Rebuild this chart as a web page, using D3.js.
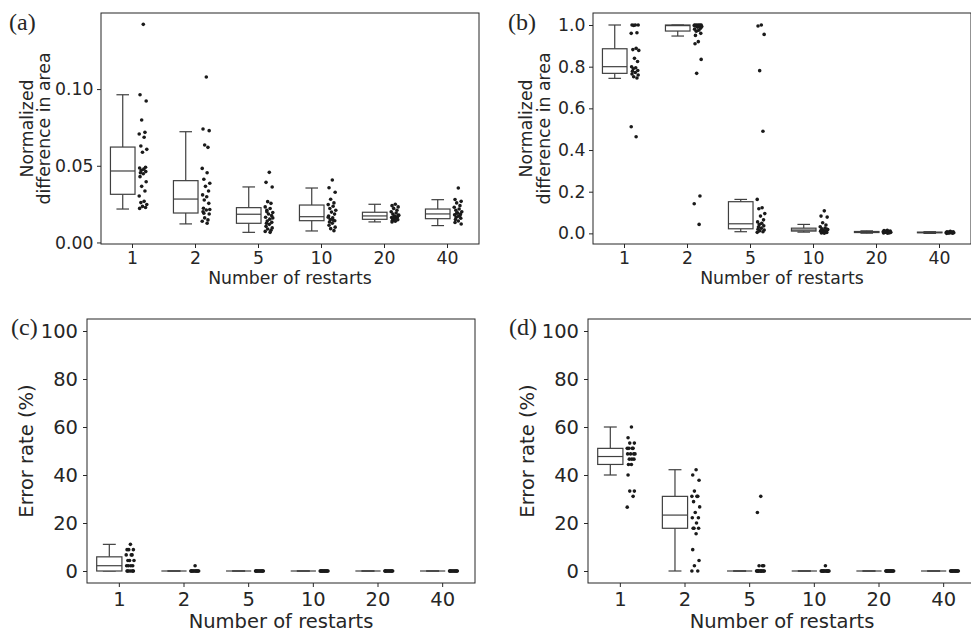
<!DOCTYPE html>
<html>
<head>
<meta charset="utf-8">
<script src="https://cdn.jsdelivr.net/npm/d3@7"></script>
<style>
  body { margin: 0; background: #fff; }
  svg { display: block; }
  text { fill: #262626; }
</style>
</head>
<body>
<svg id="chart" width="971" height="632"></svg>
<script>
// categories on the x axis
const restarts = ['1', '2', '5', '10', '20', '40'];

// box stats per category: [lower whisker, q1, median, q3, upper whisker]
const boxA = [
  [0.0218, 0.0314, 0.0466, 0.0622, 0.0963],
  [0.0121, 0.0192, 0.0283, 0.0403, 0.0722],
  [0.0066, 0.0125, 0.0184, 0.0227, 0.0362],
  [0.0075, 0.0142, 0.0168, 0.0244, 0.0355],
  [0.0134, 0.0151, 0.0173, 0.0197, 0.0249],
  [0.0110, 0.0155, 0.0186, 0.0218, 0.0279]
];
const dotsA = [
  [0.1422, 0.0963, 0.0922, 0.0798, 0.0718, 0.0707, 0.0686, 0.0629, 0.0607, 0.0588, 0.0490, 0.0485, 0.0478, 0.0470, 0.0462, 0.0455, 0.0448, 0.0429, 0.0396, 0.0366, 0.0336, 0.0303, 0.0268, 0.0260, 0.0248, 0.0235, 0.0228, 0.0222],
  [0.1079, 0.0740, 0.0729, 0.0635, 0.0620, 0.0483, 0.0455, 0.0412, 0.0386, 0.0366, 0.0336, 0.0310, 0.0298, 0.0277, 0.0255, 0.0223, 0.0212, 0.0200, 0.0186, 0.0160, 0.0147, 0.0138, 0.0125, 0.0190, 0.0215],
  [0.0457, 0.0392, 0.0362, 0.0266, 0.0255, 0.0232, 0.0221, 0.0210, 0.0195, 0.0186, 0.0175, 0.0164, 0.0152, 0.0140, 0.0131, 0.0125, 0.0118, 0.0105, 0.0095, 0.0088, 0.0080, 0.0072, 0.0066, 0.0200, 0.0160],
  [0.0407, 0.0357, 0.0327, 0.0282, 0.0258, 0.0247, 0.0236, 0.0221, 0.0210, 0.0198, 0.0185, 0.0172, 0.0160, 0.0150, 0.0142, 0.0133, 0.0125, 0.0112, 0.0100, 0.0090, 0.0077, 0.0165, 0.0145],
  [0.0249, 0.0240, 0.0232, 0.0222, 0.0210, 0.0200, 0.0192, 0.0185, 0.0178, 0.0172, 0.0168, 0.0163, 0.0158, 0.0152, 0.0148, 0.0143, 0.0138, 0.0134, 0.0175, 0.0160, 0.0155],
  [0.0355, 0.0280, 0.0268, 0.0258, 0.0240, 0.0230, 0.0218, 0.0210, 0.0200, 0.0193, 0.0186, 0.0180, 0.0172, 0.0165, 0.0158, 0.0150, 0.0140, 0.0130, 0.0120, 0.0190, 0.0175]
];

const boxB = [
  [0.744, 0.768, 0.800, 0.886, 1.000],
  [0.947, 0.971, 0.997, 1.000, 1.000],
  [0.008, 0.022, 0.046, 0.152, 0.163],
  [0.006, 0.011, 0.016, 0.025, 0.043],
  [0.001, 0.004, 0.006, 0.009, 0.012],
  [0.000, 0.003, 0.004, 0.006, 0.008]
];
const dotsB = [
  [1.0, 1.0, 1.0, 0.998, 0.963, 0.960, 0.888, 0.882, 0.878, 0.840, 0.825, 0.800, 0.795, 0.790, 0.782, 0.778, 0.772, 0.765, 0.760, 0.752, 0.746, 0.512, 0.464],
  [1.0, 1.0, 1.0, 1.0, 1.0, 0.998, 0.997, 0.995, 0.993, 0.990, 0.985, 0.980, 0.975, 0.970, 0.960, 0.950, 0.920, 0.910, 0.835, 0.768, 0.179, 0.142, 0.043],
  [1.0, 0.995, 0.955, 0.781, 0.490, 0.163, 0.123, 0.118, 0.095, 0.083, 0.065, 0.055, 0.048, 0.042, 0.036, 0.030, 0.025, 0.020, 0.016, 0.012, 0.008, 0.005],
  [0.108, 0.083, 0.078, 0.051, 0.040, 0.032, 0.026, 0.022, 0.018, 0.015, 0.012, 0.010, 0.008, 0.006, 0.004, 0.002, 0.001, 0.014, 0.020],
  [0.015, 0.013, 0.011, 0.010, 0.009, 0.008, 0.007, 0.006, 0.005, 0.004, 0.003, 0.002, 0.001, 0.006, 0.004],
  [0.010, 0.008, 0.007, 0.006, 0.005, 0.004, 0.004, 0.003, 0.003, 0.002, 0.001, 0.000, 0.005, 0.002]
];

const boxC = [
  [0, 0, 2.2, 5.9, 11.1],
  [0, 0, 0, 0, 0],
  [0, 0, 0, 0, 0],
  [0, 0, 0, 0, 0],
  [0, 0, 0, 0, 0],
  [0, 0, 0, 0, 0]
];
const dotsC = [
  [11.1, 8.9, 8.9, 8.9, 6.7, 6.7, 6.7, 4.4, 4.4, 4.4, 2.2, 2.2, 2.2, 2.2, 0, 0, 0, 0, 0, 0, 0],
  [2.2, 0, 0, 0, 0, 0, 0, 0, 0, 0, 0, 0, 0],
  [0, 0, 0, 0, 0, 0, 0, 0, 0, 0, 0, 0],
  [0, 0, 0, 0, 0, 0, 0, 0, 0, 0, 0, 0, 0, 0],
  [0, 0, 0, 0, 0, 0, 0, 0, 0, 0, 0, 0],
  [0, 0, 0, 0, 0, 0, 0, 0, 0, 0, 0, 0]
];

const boxD = [
  [40, 44.4, 47.7, 51.1, 60],
  [0, 17.8, 23.3, 31.1, 42.2],
  [0, 0, 0, 0, 0],
  [0, 0, 0, 0, 0],
  [0, 0, 0, 0, 0],
  [0, 0, 0, 0, 0]
];
const dotsD = [
  [60, 55.5, 53.3, 53.3, 51.1, 51.1, 51.1, 51.1, 48.8, 48.8, 48.8, 48.8, 46.6, 46.6, 46.6, 44.4, 44.4, 40, 33.3, 33.3, 31.1, 26.6],
  [42.2, 40, 37.8, 33.3, 31.1, 31.1, 31.1, 28.9, 26.7, 24.4, 22.2, 22.2, 20, 17.8, 17.8, 17.8, 15.5, 8.9, 4.4, 2.2, 0, 0],
  [31.1, 24.4, 2.2, 2.2, 2.2, 0, 0, 0, 0, 0, 0, 0, 0, 0, 0, 0, 0],
  [2.2, 0, 0, 0, 0, 0, 0, 0, 0, 0, 0, 0, 0, 0, 0],
  [0, 0, 0, 0, 0, 0, 0, 0, 0, 0, 0, 0, 0, 0],
  [0, 0, 0, 0, 0, 0, 0, 0, 0, 0, 0, 0, 0, 0]
];

const ticksArea = [0, 0.05, 0.10];
const ticksAreaB = [0, 0.2, 0.4, 0.6, 0.8, 1.0];
const ticksErr = [0, 20, 40, 60, 80, 100];

// fixed strip jitter pattern (fraction of half spread)
const jit = [0.1, -0.7, 0.8, -0.3, 0.5, -0.9, 0.3, -0.5, 0.95, -0.1, 0.65, -0.8, 0.2, -0.4, 0.7, -0.6];

const svg = d3.select('#chart');

const panels = [
  { tag: '(a)', left: 101, top: 13, w: 378, h: 231, domain: [-0.001, 0.1496], ticks: ticksArea, fmt: '.2f',
    ylabel: ['Normalized', 'difference in area'], ylabX: [33, 50], fs: 17.3, tagX: 9, tagY: 30, pad: 3.5,
    boxes: boxA, dots: dotsA },
  { tag: '(b)', left: 593, top: 13, w: 378, h: 231, domain: [-0.051, 1.0576], ticks: ticksAreaB, fmt: '.1f',
    ylabel: ['Normalized', 'difference in area'], ylabX: [532, 550], fs: 17.3, tagX: 508, tagY: 30, pad: 3.5,
    boxes: boxB, dots: dotsB },
  { tag: '(c)', left: 87, top: 319, w: 388, h: 264, domain: [-5, 105], ticks: ticksErr, fmt: 'd',
    ylabel: ['Error rate (%)'], ylabX: [33], fs: 19.5, tagX: 11, tagY: 335, pad: 5,
    boxes: boxC, dots: dotsC },
  { tag: '(d)', left: 588, top: 319, w: 388, h: 264, domain: [-5, 105], ticks: ticksErr, fmt: 'd',
    ylabel: ['Error rate (%)'], ylabX: [534], fs: 19.5, tagX: 509, tagY: 335, pad: 5,
    boxes: boxD, dots: dotsD }
];

function drawPanel(p) {
  const x = d3.scaleBand().domain(restarts).range([p.left, p.left + p.w]);
  const y = d3.scaleLinear().domain(p.domain).range([p.top + p.h, p.top]);
  const bw = x.bandwidth();
  const g = svg.append('g');

  // boxes
  restarts.forEach((c, i) => {
    const [lo, q1, med, q3, hi] = p.boxes[i];
    const cx = x(c) + bw / 2;
    const bx0 = cx - 0.35 * bw, bx1 = cx + 0.04 * bw;
    const bc = (bx0 + bx1) / 2;
    const cap = 0.1 * bw;
    const bg = g.append('g').attr('stroke', '#3f3f3f').attr('stroke-width', 1.2).attr('fill', 'none');
    bg.append('line').attr('x1', bc).attr('x2', bc).attr('y1', y(hi)).attr('y2', y(q3));
    bg.append('line').attr('x1', bc).attr('x2', bc).attr('y1', y(q1)).attr('y2', y(lo));
    bg.append('line').attr('x1', bc - cap).attr('x2', bc + cap).attr('y1', y(hi)).attr('y2', y(hi));
    bg.append('line').attr('x1', bc - cap).attr('x2', bc + cap).attr('y1', y(lo)).attr('y2', y(lo));
    bg.append('rect').attr('x', bx0).attr('width', bx1 - bx0)
      .attr('y', y(q3)).attr('height', Math.max(0, y(q1) - y(q3))).attr('fill', '#fff');
    bg.append('line').attr('x1', bx0).attr('x2', bx1).attr('y1', y(med)).attr('y2', y(med));

    // strip of points
    g.append('g').selectAll('circle')
      .data(p.dots[i])
      .join('circle')
      .attr('cx', (d, k) => cx + 0.165 * bw + jit[k % jit.length] * 0.065 * bw)
      .attr('cy', d => y(d))
      .attr('r', 1.8)
      .attr('fill', '#1a1a1a');
  });

  // frame
  g.append('rect').attr('x', p.left).attr('y', p.top).attr('width', p.w).attr('height', p.h)
    .attr('fill', 'none').attr('stroke', '#262626').attr('stroke-width', 1);

  // axes
  const ax = g.append('g').attr('transform', `translate(0,${p.top + p.h})`)
    .call(d3.axisBottom(x).tickSize(4).tickPadding(p.pad));
  const ay = g.append('g').attr('transform', `translate(${p.left},0)`)
    .call(d3.axisLeft(y).tickValues(p.ticks).tickFormat(d3.format(p.fmt)).tickSize(4).tickPadding(p.pad));
  [ax, ay].forEach(a => {
    a.select('.domain').remove();
    a.selectAll('line').attr('stroke', '#262626');
    a.selectAll('text').attr('font-family', 'DejaVu Sans').attr('font-size', p.fs).attr('fill', '#262626');
  });

  // x label
  g.append('text').attr('x', p.left + p.w / 2).attr('y', p.top + p.h + (p.fs > 18 ? 44.5 : 40))
    .attr('text-anchor', 'middle').attr('font-family', 'DejaVu Sans').attr('font-size', p.fs)
    .text('Number of restarts');

  // y label
  const cy = p.top + p.h / 2;
  p.ylabel.forEach((t, k) => {
    g.append('text').attr('transform', `translate(${p.ylabX[k]},${cy}) rotate(-90)`)
      .attr('text-anchor', 'middle').attr('font-family', 'DejaVu Sans').attr('font-size', p.fs)
      .text(t);
  });

  // panel tag
  g.append('text').attr('x', p.tagX).attr('y', p.tagY)
    .attr('font-family', 'Liberation Serif').attr('font-size', 24)
    .text(p.tag);
}

panels.forEach(drawPanel);
</script>
</body>
</html>
